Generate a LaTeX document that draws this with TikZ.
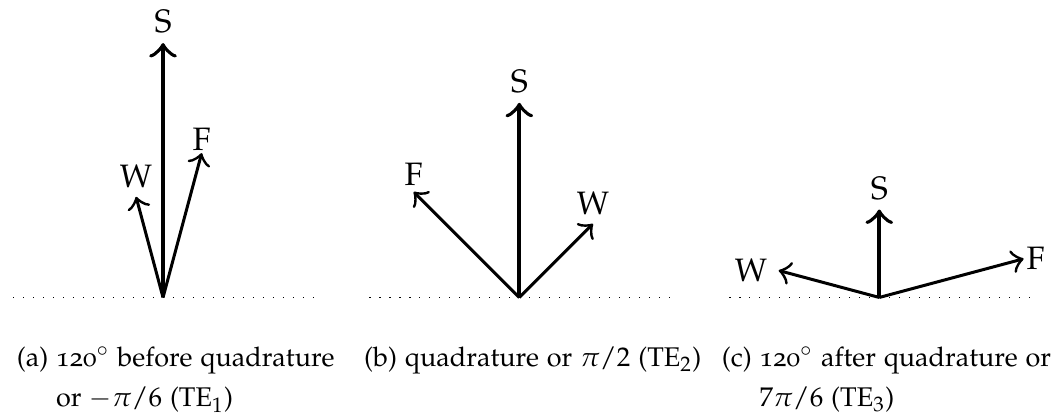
\documentclass[tikz,border=0pt]{standalone}
\usepackage[T1]{fontenc}
\usepackage[osf]{mathpazo}
\usetikzlibrary{arrows.meta}

\begin{document}
\begin{tikzpicture}[>={Classical TikZ Rightarrow[scale=1.35]},
        vec/.style = {->, line width=1pt},
        svec/.style = {->, line width=1.3pt},
        tag/.style = {font=\fontsize{10.8}{13}\selectfont},
        ground/.style = {dash pattern=on 0.4pt off 2.93pt, line width=0.4pt},
        subcap/.style = {anchor=base west, inner sep=0pt, font=\small}]
    \useasboundingbox (-1.910,-1.388) rectangle (10.438,3.485);

    % (a) 120 degrees before quadrature
    \begin{scope}
        \coordinate (Oa) at (0,0);
        \coordinate (La) at (-1.757,0);
        \coordinate (Ra) at (1.757,0);
        \coordinate (Sa) at (90:2.98);
        \coordinate (Wa) at (105:1.22);
        \coordinate (Fa) at (75:1.75);
        \draw[ground] (La) -- (Ra);
        \draw[svec] (Oa) -- (Sa) node[tag, above, inner sep=2.5pt] (sa) {S};
        \draw[vec] (Oa) -- (Wa) node[tag, above, inner sep=2.5pt] (wa) {W};
        \draw[vec] (Oa) -- (Fa) node[tag, above, inner sep=0.3pt] (fa) {F};
    \end{scope}

    % (b) quadrature
    \begin{scope}[xshift=4.174cm]
        \coordinate (Ob) at (0,0);
        \coordinate (Lb) at (-1.757,0);
        \coordinate (Rb) at (1.757,0);
        \coordinate (Sb) at (90:2.28);
        \coordinate (Wb) at (45:1.22);
        \coordinate (Fb) at (135:1.75);
        \draw[ground] (Lb) -- (Rb);
        \draw[svec] (Ob) -- (Sb) node[tag, above, inner sep=2.5pt] (sb) {S};
        \draw[vec] (Ob) -- (Wb) node[tag, above, inner sep=2.5pt] (wb) {W};
        \draw[vec] (Ob) -- (Fb) node[tag, above, inner sep=1.5pt] (fb) {F};
    \end{scope}

    % (c) 120 degrees after quadrature
    \begin{scope}[xshift=8.391cm]
        \coordinate (Oc) at (0,0);
        \coordinate (Lc) at (-1.757,0);
        \coordinate (Rc) at (1.757,0);
        \coordinate (Sc) at (90:1.03);
        \coordinate (Wc) at (165:1.22);
        \coordinate (Fc) at (15:1.75);
        \draw[ground] (Lc) -- (Rc);
        \draw[svec] (Oc) -- (Sc) node[tag, above, inner sep=2.5pt] (sc) {S};
        \draw[vec] (Oc) -- (Wc) node[tag, left] (wc) {W};
        \draw[vec] (Oc) -- (Fc) node[tag, right, inner sep=0.5pt] (fc) {F};
    \end{scope}

    % captions
    \node[subcap] (capa) at (-1.72,-0.81) {\begin{tabular}[t]{@{}l@{\ }l@{}}
        (a) & 120$^\circ$ before quadrature\\[2.4pt]
            & or $-\pi/6$ (TE$_1$)\end{tabular}};
    \node[subcap] (capb) at (2.35,-0.81) {\begin{tabular}[t]{@{}l@{\ }l@{}}
        (b) & quadrature or $\pi/2$ (TE$_2$)\end{tabular}};
    \node[subcap] (capc) at (6.54,-0.81) {\begin{tabular}[t]{@{}l@{\ }l@{}}
        (c) & 120$^\circ$ after quadrature or\\[2.4pt]
            & $7\pi/6$ (TE$_3$)\end{tabular}};
\end{tikzpicture}
\end{document}
